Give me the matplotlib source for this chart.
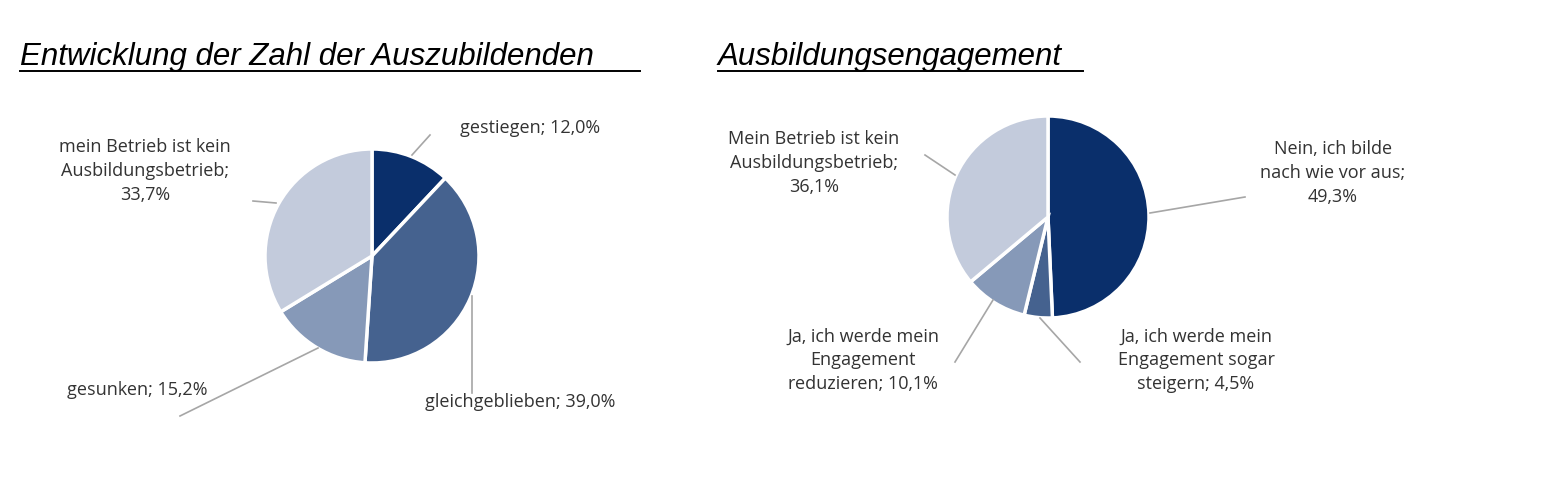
import matplotlib
matplotlib.use("Agg")
import matplotlib.pyplot as plt
from matplotlib.lines import Line2D

W, H = 1562, 486
left_labels = ["gestiegen; 12,0%", "gleichgeblieben; 39,0%", "gesunken; 15,2%",
               "mein Betrieb ist kein\nAusbildungsbetrieb;\n33,7%"]
left_values = [12.0, 39.0, 15.2, 33.7]
right_labels = ["Nein, ich bilde\nnach wie vor aus;\n49,3%",
                "Ja, ich werde mein\nEngagement sogar\nsteigern; 4,5%",
                "Ja, ich werde mein\nEngagement\nreduzieren; 10,1%",
                "Mein Betrieb ist kein\nAusbildungsbetrieb;\n36,1%"]
right_values = [49.3, 4.5, 10.1, 36.1]
colors = ["#0a2f6b", "#45628f", "#8699b8", "#c3cbdc"]

fig = plt.figure(figsize=(W/100, H/100), dpi=100)
def P(x, y): return (x/W, 1-y/H)

def pie_at(cx, cy, r, vals):
    ax = fig.add_axes([(cx-r)/W, 1-(cy+r)/H, 2*r/W, 2*r/H])
    ax.pie(vals, colors=colors, startangle=90, counterclock=False,
           wedgeprops=dict(edgecolor="white", linewidth=2.5))
    ax.set_xlim(-1, 1); ax.set_ylim(-1, 1); ax.axis("off")

pie_at(372, 256, 107, left_values)
pie_at(1048, 217, 101, right_values)

def title(x, y, x2, s):
    fig.text(*P(x, y), s, fontsize=22.5, style="italic", family="Liberation Sans",
             va="baseline", ha="left")
    fig.add_artist(Line2D([x/W, x2/W], [1-(y+6)/H]*2, color="black", lw=1.4))

title(20, 65, 640, "Entwicklung der Zahl der Auszubildenden")
title(718, 65, 1083, "Ausbildungsengagement")

tk = dict(fontsize=13, family="Open Sans", color="#333333")
def lab(x, y, s, ha="center"):
    fig.text(*P(x, y), s, ha=ha, va="center", linespacing=1.4, **tk)
def line(pts):
    xs = [p[0]/W for p in pts]; ys = [1-p[1]/H for p in pts]
    fig.add_artist(Line2D(xs, ys, color="#a6a6a6", lw=1.2))

lab(530, 128, left_labels[0])
lab(520, 402, left_labels[1])
lab(137, 390, left_labels[2])
lab(145, 171, left_labels[3])
line([(412, 155), (430, 135)])
line([(472, 296), (472, 393)])
line([(318, 348), (180, 416)])
line([(253, 201), (276, 203)])

lab(1333, 173, right_labels[0])
lab(1196, 360, right_labels[1])
lab(863, 360, right_labels[2])
lab(814, 163, right_labels[3])
line([(1150, 213), (1245, 197)])
line([(1040, 318), (1080, 362)])
line([(993, 300), (955, 362)])
line([(925, 155), (955, 175)])

fig.savefig("out.png", dpi=100, facecolor="white")
